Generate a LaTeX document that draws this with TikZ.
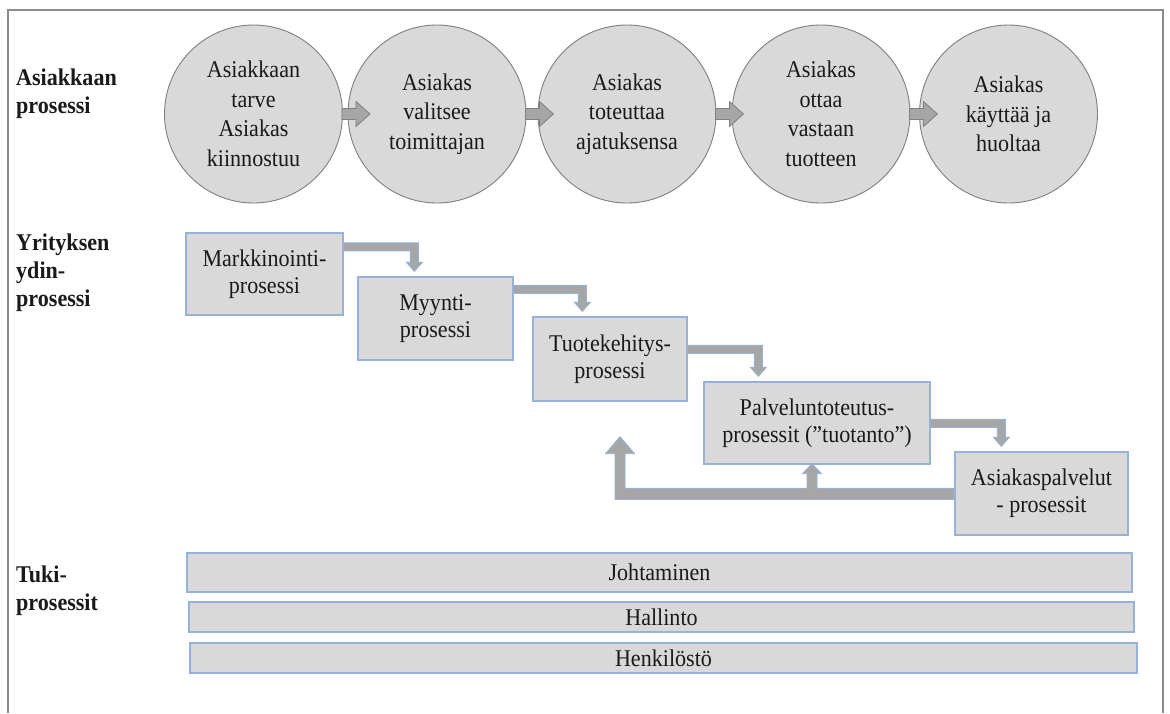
\documentclass[tikz,border=0pt]{standalone}
\usepackage{fontspec}
\setmainfont{Liberation Serif}[FakeStretch=0.92]
\usetikzlibrary{calc}

\definecolor{panelgray}{HTML}{D9D9D9}
\definecolor{arrowgray}{HTML}{A6A6A6}
\definecolor{circleline}{HTML}{7F7F7F}
\definecolor{boxline}{HTML}{95B3D7}
\definecolor{frameline}{HTML}{8C8C8C}
\definecolor{inktext}{HTML}{1A1A1A}

% block arrow leaving the right side of a stage circle
\newcommand\stagearrow[1]{%
  \draw[flowarrow, shift={(#1.east)}]
    (-1,5.5) -- (13,5.5) -- (13,12.5) -- (27,0) -- (13,-12.5) -- (13,-5.5) -- (-1,-5.5) -- cycle;}

% elbow block arrow: from the right side of #1 (#2 below its top)
% down onto the top of #3 (#4 from its left edge)
\newcommand\elbowarrow[4]{%
  \path[linkarrow] let \p1=($(#1.north east)+(0,-#2)$), \p2=($(#3.north west)+(#4,5)$) in
    (\x1,\y1+4pt) -- (\x2+4pt,\y1+4pt) -- (\x2+4pt,\y2+9pt) -- (\x2+8pt,\y2+9pt) --
    (\x2,\y2) -- (\x2-8pt,\y2+9pt) -- (\x2-4pt,\y2+9pt) -- (\x2-4pt,\y1-4pt) --
    (\x1,\y1-4pt) -- cycle;}

\begin{document}
\begin{tikzpicture}[x=1pt,y=1pt,
  stage/.style={circle, minimum size=178pt, inner sep=0pt, fill=panelgray,
    draw=circleline, line width=0.9pt, align=center, text=inktext,
    font=\fontsize{24}{29.5}\selectfont},
  procbox/.style={rectangle, inner sep=0pt, fill=panelgray, draw=boxline,
    line width=1.3pt, align=center, text=inktext,
    font=\fontsize{24}{27}\selectfont},
  supportbar/.style={procbox, minimum height=30pt},
  rowlabel/.style={anchor=north west, inner sep=0pt, align=left, text=inktext,
    font=\fontsize{24}{28}\selectfont\bfseries},
  flowarrow/.style={fill=arrowgray, draw=circleline, line width=0.8pt},
  linkarrow/.style={fill=arrowgray, draw=boxline, line width=0.8pt},
  frame/.style={draw=frameline, line width=1.3pt}
]
\fill[white] (0,0) rectangle (1170,-713);
\useasboundingbox (0,0) rectangle (1170,-713);

% outer frame, open at the bottom
\draw[frame] (8,-713) -- (8,-10) -- (1163,-10) -- (1163,-713);

% row labels
\node[rowlabel] (l1) at (16,-69) {Asiakkaan\\prosessi};
\node[rowlabel] (l2) at (16,-234) {Yrityksen\\ydin-\\prosessi};
\node[rowlabel] (l3) at (16,-566) {Tuki-\\prosessit};

% customer process
\node[stage] (c1) at (253.5,-114) {Asiakkaan\\tarve\\Asiakas\\kiinnostuu};
\node[stage] (c2) at (437,-114) {Asiakas\\valitsee\\toimittajan};
\node[stage] (c3) at (627,-114) {Asiakas\\toteuttaa\\ajatuksensa};
\node[stage] (c4) at (821,-114) {Asiakas\\ottaa\\vastaan\\tuotteen};
\node[stage] (c5) at (1008.5,-114) {Asiakas\\käyttää ja\\huoltaa};
\stagearrow{c1}
\stagearrow{c2}
\stagearrow{c3}
\stagearrow{c4}

% core processes
\node[procbox, minimum width=157pt, minimum height=82pt] (b1) at (264.5,-274) {Markkinointi-\\prosessi};
\node[procbox, minimum width=155pt, minimum height=83pt] (b2) at (435.5,-318.5) {Myynti-\\prosessi};
\node[procbox, minimum width=154pt, minimum height=84pt] (b3) at (610,-359) {Tuotekehitys-\\prosessi};
\node[procbox, minimum width=226pt, minimum height=82pt] (b4) at (817,-423) {Palveluntoteutus-\\prosessit (”tuotanto”)};
\node[procbox, minimum width=173pt, minimum height=83pt] (b5) at (1041.5,-493.5) {Asiakaspalvelut\\- prosessit};

\elbowarrow{b1}{14.5}{b2}{57}
\elbowarrow{b2}{13}{b3}{50}
\elbowarrow{b3}{33}{b4}{55}
\elbowarrow{b4}{42}{b5}{47}

% feedback from customer service back to development and production
\path[linkarrow] let \p1=($(b5.north west)+(0,-42.5)$),
                     \p2=($(b3.south)+(10,-35)$),
                     \p3=($(b4.south)+(-5,1)$) in
  (\x1,\y1-5.5pt) -- (\x2-5pt,\y1-5.5pt) -- (\x2-5pt,\y2-17pt) -- (\x2-14.5pt,\y2-17pt) --
  (\x2,\y2) -- (\x2+14.5pt,\y2-17pt) -- (\x2+5pt,\y2-17pt) -- (\x2+5pt,\y1+5.5pt) --
  (\x3-5pt,\y1+5.5pt) -- (\x3-5pt,\y3-10pt) -- (\x3-9.5pt,\y3-10pt) -- (\x3,\y3) --
  (\x3+9.5pt,\y3-10pt) -- (\x3+5pt,\y3-10pt) -- (\x3+5pt,\y1+5.5pt) -- (\x1,\y1+5.5pt) -- cycle;

% support processes
\node[supportbar, minimum width=945pt, minimum height=39pt] (s1) at (659.5,-572.5) {Johtaminen};
\node[supportbar, minimum width=945pt] (s2) at (661.5,-617) {Hallinto};
\node[supportbar, minimum width=947pt] (s3) at (663.5,-658) {Henkilöstö};
\end{tikzpicture}
\end{document}
